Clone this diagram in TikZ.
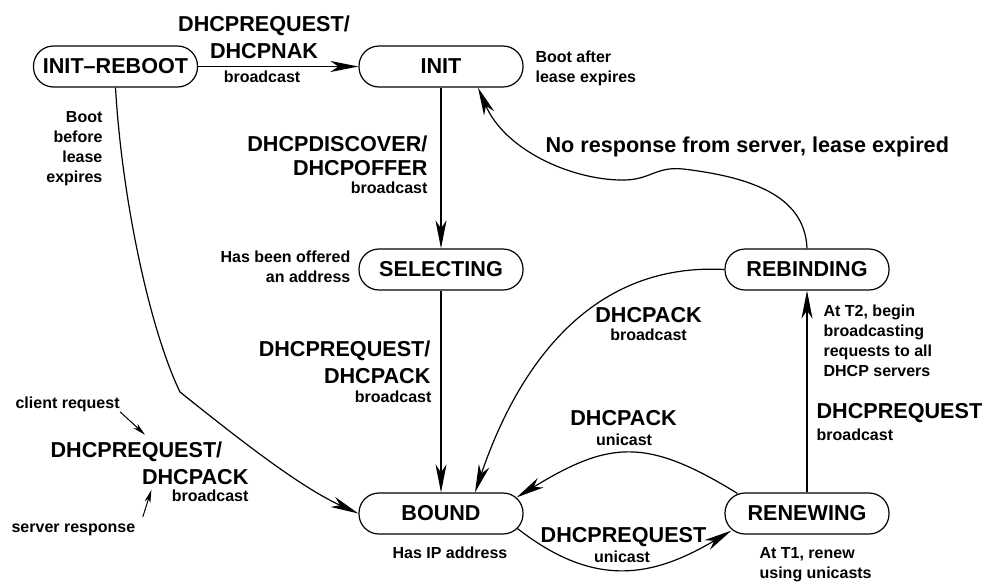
\documentclass[tikz,border=0pt]{standalone}
\usepackage{fontspec}
\setmainfont{Liberation Sans}
\usepackage{tikz}
\usetikzlibrary{arrows.meta, calc}

\newcommand{\msgfont}{\fontsize{21.6pt}{27.5pt}\selectfont\bfseries}
\newcommand{\notefont}{\fontsize{16pt}{20pt}\selectfont\bfseries}

\begin{document}
\begin{tikzpicture}[x=1pt, y=-1pt, line width=1.2pt,
    >={Stealth[length=28pt, width=11pt, inset=8pt]},
    state/.style={draw, rectangle, rounded corners=20pt, minimum width=164pt, minimum height=41pt, inner sep=0pt, font=\msgfont},
    msg/.style={font=\msgfont, inner sep=0pt},
    note/.style={font=\notefont, inner sep=0pt},
    hint/.style={line width=1pt, -{Stealth[length=13pt, width=6pt, inset=4pt]}}]
  \useasboundingbox (0,0) rectangle (984,584);

  % states
  \node[state] (reboot) at (115.5,66.5) {INIT–REBOOT};
  \node[state] (init) at (441,66.5) {INIT};
  \node[state] (selecting) at (441,269.5) {SELECTING};
  \node[state] (rebinding) at (807,269.5) {REBINDING};
  \node[state] (bound) at (441,513.5) {BOUND};
  \node[state] (renewing) at (807,513.5) {RENEWING};
  \coordinate (initin) at ($(init.south)+(37,0)$);

  % transitions
  \draw[->] (reboot) -- (init);
  \draw[->] (init) -- (selecting);
  \draw[->] (selecting) -- (bound);
  \draw[->] (renewing) -- (rebinding);
  \draw[->] (reboot.south) .. controls (122,200) and (150,330) .. (180,392) .. controls (240,440) and (300,487) .. (bound.west);
  \draw[->] (rebinding.north) .. controls (805,200) and (760,178) .. (683,169) .. controls (655,166) and (650,181) .. (620,180) .. controls (570,179) and (505,150) .. (initin);
  \draw[->] (rebinding.west) .. controls (585,262) and (515,375) .. ($(bound.north)+(34,0)$);
  \draw[->] ($(renewing.north west)+(13,1)$) .. controls (646,437) and (609,441) .. ($(bound.north east)+(-7,5)$);
  \draw[->] ($(bound.south east)+(-6,-6)$) .. controls (595,589) and (653,577) .. ($(renewing.south west)+(7,-4)$);

  % messages
  \node[msg, align=center, anchor=north] (nakmsg) at (264,15) {DHCPREQUEST/\\DHCPNAK};
  \node[note, anchor=base] (nakcast) at (262,82) {broadcast};
  \node[msg, align=right, anchor=north east] (offermsg) at (428,135) {DHCPDISCOVER/\\[-3pt]DHCPOFFER};
  \node[note, anchor=base east] (offercast) at (428,193) {broadcast};
  \node[msg, align=right, anchor=north east] (ackmsg) at (431,340) {DHCPREQUEST/\\DHCPACK};
  \node[note, anchor=base east] (ackcast) at (432,402) {broadcast};
  \node[msg, anchor=base] (rebindack) at (648.5,322) {DHCPACK};
  \node[note, anchor=base] (rebindcast) at (648.5,340) {broadcast};
  \node[msg, anchor=base west] (expired) at (545,152) {No response from server, lease expired};
  \node[msg, anchor=base] (renewack) at (623.5,425) {DHCPACK};
  \node[note, anchor=base] (renewackcast) at (624,445) {unicast};
  \node[msg, anchor=base] (renewreq) at (623.5,542) {DHCPREQUEST};
  \node[note, anchor=base] (renewreqcast) at (622,562) {unicast};
  \node[msg, anchor=base west] (rebindreq) at (816,418) {DHCPREQUEST};
  \node[note, anchor=base west] (rebindreqcast) at (816,440) {broadcast};

  % notes
  \node[note, align=left, anchor=north west] (bootafter) at (535,50.5) {Boot after\\lease expires};
  \node[note, align=right, anchor=north east] (bootbefore) at (103,110.5) {Boot\\before\\lease\\expires};
  \node[note, align=right, anchor=north east] (offered) at (351,250.5) {Has been offered\\an address};
  \node[note, anchor=base] (hasip) at (450,558) {Has IP address};
  \node[note, align=left, anchor=north west] (atone) at (759,546.5) {At T1, renew\\using unicasts};
  \node[note, align=left, anchor=north west] (attwo) at (823,304.5) {At T2, begin\\broadcasting\\requests to all\\DHCP servers};

  % legend
  \node[note, anchor=base west] (clientreq) at (15,408) {client request};
  \node[msg, anchor=base west] (legreq) at (50,457) {DHCPREQUEST/};
  \node[msg, anchor=base east] (legack) at (249,484) {DHCPACK};
  \node[note, anchor=base east] (legcast) at (249,501) {broadcast};
  \node[note, anchor=base west] (serverresp) at (11,532) {server response};
  \draw[hint] (clientreq.south east) -- ($(legreq.north west)+(95,-6)$);
  \draw[hint] ($(serverresp.north east)+(7,-6)$) -- ($(legack.south west)+(10,5)$);
\end{tikzpicture}
\end{document}
